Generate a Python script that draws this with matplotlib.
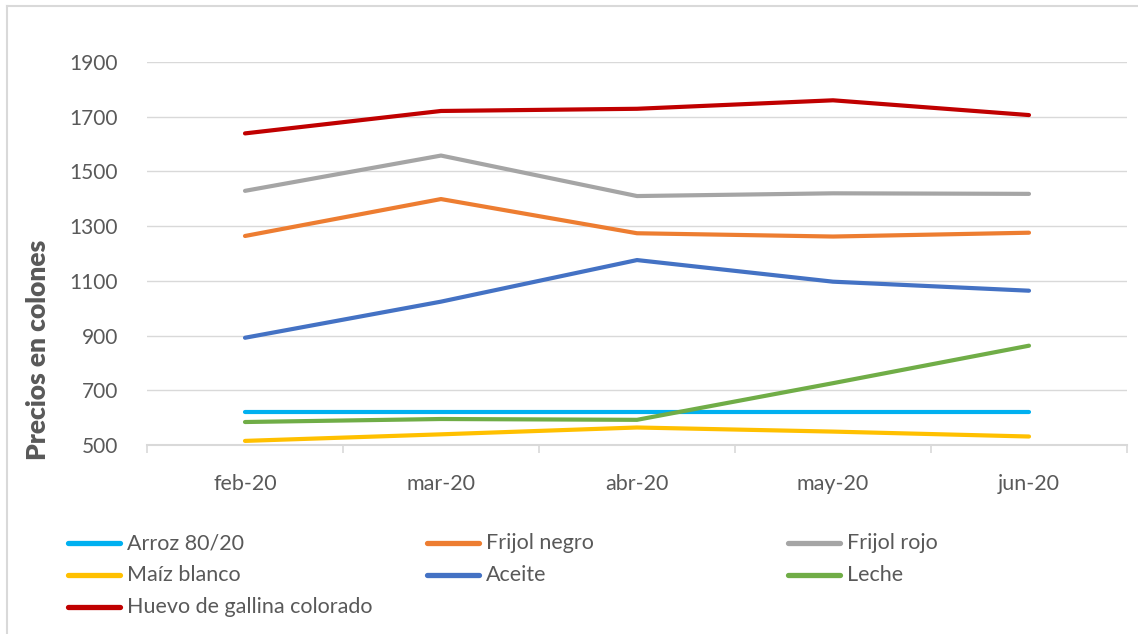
import matplotlib
matplotlib.use("Agg")
import matplotlib.pyplot as plt
from matplotlib.lines import Line2D

plt.rcParams['font.family'] = ['Lato', 'DejaVu Sans']

months = ["feb-20", "mar-20", "abr-20", "may-20", "jun-20"]
series_names = ["Arroz 80/20", "Frijol negro", "Frijol rojo", "Maíz blanco",
                "Aceite", "Leche", "Huevo de gallina colorado"]
arroz = [621, 621, 621, 621, 621]
frijol_negro = [1264, 1399, 1274, 1262, 1276]
frijol_rojo = [1429, 1558, 1410, 1420, 1418]
maiz_blanco = [515, 539, 564, 549, 531]
aceite = [892, 1024, 1176, 1097, 1064]
leche = [584, 595, 592, 726, 863]
huevo = [1639, 1721, 1729, 1760, 1706]
yticks = [500, 700, 900, 1100, 1300, 1500, 1700, 1900]

values = [arroz, frijol_negro, frijol_rojo, maiz_blanco, aceite, leche, huevo]
colors = ["#00B0F0", "#ED7D31", "#A5A5A5", "#FFC000", "#4472C4", "#70AD47", "#C00000"]

W, H = 1138, 634
fig = plt.figure(figsize=(W / 100, H / 100), dpi=100)
ax = fig.add_axes([147 / W, 1 - 445 / H, 980 / W, 383 / H])

x = list(range(len(months)))
for name, vals, c in zip(series_names, values, colors):
    ax.plot(x, vals, color=c, lw=3.0, solid_capstyle='round', solid_joinstyle='round', label=name, zorder=3)

ax.set_xlim(-0.5, len(months) - 0.5)
ax.set_ylim(500, 1900)
ax.set_yticks(yticks)
ax.set_yticklabels([str(v) for v in yticks])
ax.grid(axis='y', color='#D9D9D9', lw=1.0, zorder=0)
ax.set_axisbelow(True)
for s in ['left', 'right', 'top']:
    ax.spines[s].set_visible(False)
ax.spines['bottom'].set_color('#D9D9D9')
ax.spines['bottom'].set_linewidth(1.5)

ax.set_xticks([i - 0.5 for i in range(len(months) + 1)])
ax.set_xticklabels([])
ax.set_xticks(x, minor=True)
ax.set_xticklabels(months, minor=True)
ax.tick_params(axis='x', which='major', length=6, width=1.2, color='#D9D9D9', direction='out')
ax.tick_params(axis='x', which='minor', length=0, pad=21, labelsize=15.5, labelcolor='#595959')
ax.tick_params(axis='y', length=0, pad=21, labelsize=15, labelcolor='#595959')

fig.text(38 / W, 1 - 350 / H, "Precios en colones", rotation=90, fontsize=19,
         fontweight='heavy', color='#595959', ha='center', va='center')

# Legend (3 columns, row-major like the original)
col_x = [68, 427, 788]
row_y = [543, 575, 607]
for i, (name, c) in enumerate(zip(series_names, colors)):
    r, col = divmod(i, 3)
    x0 = col_x[col]
    y0 = 1 - row_y[r] / H
    fig.add_artist(Line2D([x0 / W, (x0 + 52) / W], [y0, y0], color=c, lw=3.8,
                          solid_capstyle='round', transform=fig.transFigure))
    fig.text((x0 + 59) / W, y0, name, fontsize=15.5, color='#595959', ha='left', va='center')

# Chart border (top and left visible)
fig.add_artist(Line2D([7 / W, 1], [1 - 6 / H, 1 - 6 / H], color='#D9D9D9', lw=1.5, transform=fig.transFigure))
fig.add_artist(Line2D([7 / W, 7 / W], [0, 1 - 6 / H], color='#D9D9D9', lw=1.5, transform=fig.transFigure))

fig.savefig("out.png", dpi=100)
